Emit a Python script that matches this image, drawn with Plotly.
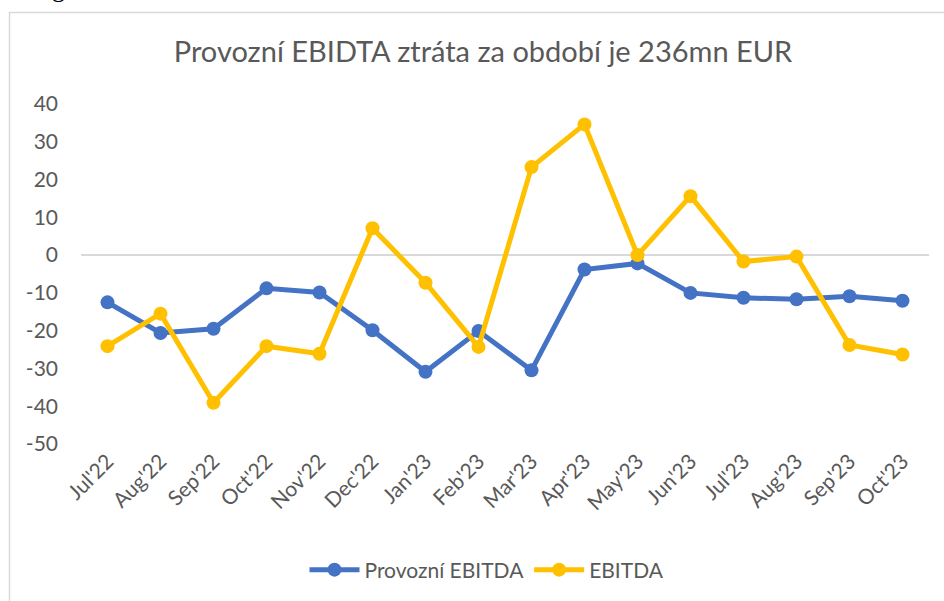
import plotly.graph_objects as go

categories = ["Jul'22", "Aug'22", "Sep'22", "Oct'22", "Nov'22", "Dec'22", "Jan'23", "Feb'23",
              "Mar'23", "Apr'23", "May'23", "Jun'23", "Jul'23", "Aug'23", "Sep'23", "Oct'23"]
provozni_ebitda = [-12.5, -20.6, -19.5, -8.8, -9.9, -19.9, -30.9, -20.1,
                   -30.5, -3.8, -2.2, -10.0, -11.3, -11.7, -10.9, -12.1]
ebitda = [-24.1, -15.5, -39.1, -24.1, -26.1, 7.1, -7.3, -24.3,
          23.3, 34.6, 0.0, 15.6, -1.7, -0.4, -23.8, -26.3]
y_ticks = [40, 30, 20, 10, 0, -10, -20, -30, -40, -50]
y_tick_text = [str(v) for v in y_ticks]

FONT = "Lato"
GREY = "#595959"

# plot-area pixel geometry
L, R, T, B = 81, 15, 104, 157
W, H = 944, 601
pw, ph = W - L - R, H - T - B

def px_x(x):
    return (x - L) / pw

def px_y(y):
    return (H - B - y) / ph

fig = go.Figure()
fig.add_trace(go.Scatter(x=categories, y=provozni_ebitda, mode="lines+markers",
                         name="Provozní EBITDA",
                         line=dict(color="#4472C4", width=5),
                         marker=dict(color="#4472C4", size=14)))
fig.add_trace(go.Scatter(x=categories, y=ebitda, mode="lines+markers",
                         name="EBITDA",
                         line=dict(color="#FFC000", width=5),
                         marker=dict(color="#FFC000", size=14)))

fig.update_layout(
    width=W, height=H,
    margin=dict(l=L, r=R, t=T, b=B, autoexpand=False),
    paper_bgcolor="white", plot_bgcolor="white",
    font=dict(family=FONT, color=GREY, size=21),
    title=dict(text="Provozní EBIDTA ztráta za období je 236mn EUR",
               x=483 / W, xanchor="center", xref="container",
               y=1 - 52 / H, yanchor="middle",
               font=dict(family=FONT, size=29, color=GREY)),
    xaxis=dict(type="category", range=[-0.5, 15.5], showgrid=False, showline=False,
               zeroline=False, ticks="", tickangle=-45,
               tickfont=dict(family=FONT, size=21, color=GREY)),
    yaxis=dict(range=[-50, 40], tickvals=y_ticks, ticktext=y_tick_text,
               showgrid=False, showline=False,
               zeroline=True, zerolinecolor="#d9d9d9", zerolinewidth=1.5,
               ticks="", ticklabelstandoff=22,
               tickfont=dict(family=FONT, size=21, color=GREY)),
    showlegend=True,
    legend=dict(orientation="h", x=px_x(487), xanchor="center", y=px_y(570), yanchor="middle",
                font=dict(family=FONT, size=21, color=GREY), itemwidth=50,
                bgcolor="rgba(0,0,0,0)"),
    shapes=[dict(type="rect", xref="paper", yref="paper",
                 x0=px_x(9.5), x1=px_x(960), y0=px_y(620), y1=px_y(12.5),
                 line=dict(color="#d9d9d9", width=1.5), fillcolor="rgba(0,0,0,0)",
                 layer="below")],
    annotations=[dict(text="g", xref="paper", yref="paper", x=px_x(58), y=px_y(-12),
                      xanchor="center", yanchor="middle", showarrow=False,
                      font=dict(family="Liberation Serif", size=26, color="black"))],
)

fig.write_html("out.html", config={"displayModeBar": False},
               post_script="document.body.style.margin='0';")
